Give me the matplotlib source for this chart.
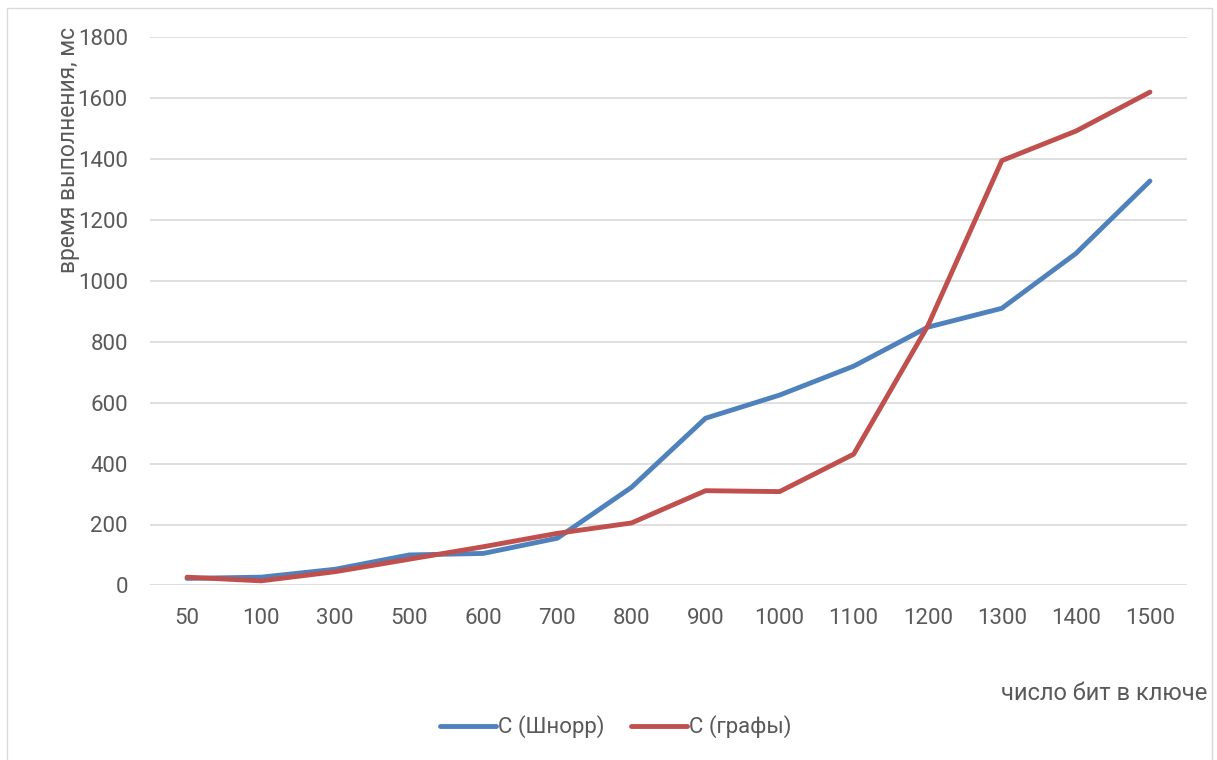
import matplotlib
matplotlib.use("Agg")
import matplotlib.pyplot as plt
from matplotlib.patches import Rectangle

plt.rcParams['font.family'] = ['Roboto', 'DejaVu Sans']

# Key sizes (bits) and execution times (ms)
key_bits = ["50", "100", "300", "500", "600", "700", "800", "900",
            "1000", "1100", "1200", "1300", "1400", "1500"]
schnorr_ms = [23, 27, 53, 100, 105, 155, 322, 549, 625, 720, 848, 910, 1090, 1328]
graphs_ms = [27, 15, 45, 86, 127, 171, 205, 311, 308, 431, 852, 1395, 1492, 1620]

series_names = ["C (Шнорр)", "C (графы)"]
colors = ["#4F81BD", "#C0504D"]
text_color = "#595959"

W, H = 1217, 760
fig = plt.figure(figsize=(W / 100, H / 100), dpi=100)

# light chart-area frame
fig.patches.append(Rectangle((7 / W, -0.01), (1212 - 7) / W, 1 - 8 / H + 0.01,
                             transform=fig.transFigure, fill=False,
                             edgecolor="#D9D9D9", linewidth=1.0))

ax = fig.add_axes([150 / W, 1 - 585.4 / H, (1187 - 150) / W, (585.4 - 37.3) / H])

x = list(range(len(key_bits)))
for vals, name, c in zip([schnorr_ms, graphs_ms], series_names, colors):
    ax.plot(x, vals, color=c, linewidth=3.5, solid_capstyle="round",
            solid_joinstyle="round", label=name, zorder=3)

ax.set_xlim(-0.5, len(key_bits) - 0.5)
ax.set_ylim(0, 1800)
ax.set_yticks(range(0, 1801, 200))
ax.set_xticks(x)
ax.set_xticklabels(key_bits)
ax.yaxis.grid(True, color="#D9D9D9", linewidth=1.2)
ax.set_axisbelow(True)
for s in ax.spines.values():
    s.set_visible(False)
ax.tick_params(axis="both", length=0, labelsize=16, labelcolor=text_color)
ax.tick_params(axis="x", pad=16)
ax.tick_params(axis="y", pad=16)

fig.text(68 / W, 1 - 150 / H, "время выполнения, мс", rotation=90,
         ha="center", va="center", fontsize=16.5, color=text_color)
fig.text(1207 / W, 1 - 693 / H, "число бит в ключе", ha="right", va="center",
         fontsize=17, color=text_color)

fig.legend(loc="center", bbox_to_anchor=(616 / W, 1 - 727 / H), ncol=2,
           frameon=False, fontsize=16, labelcolor=text_color,
           handlelength=2.5, handletextpad=0.1, columnspacing=1.2)

fig.savefig("out.png", dpi=100, facecolor="white")
